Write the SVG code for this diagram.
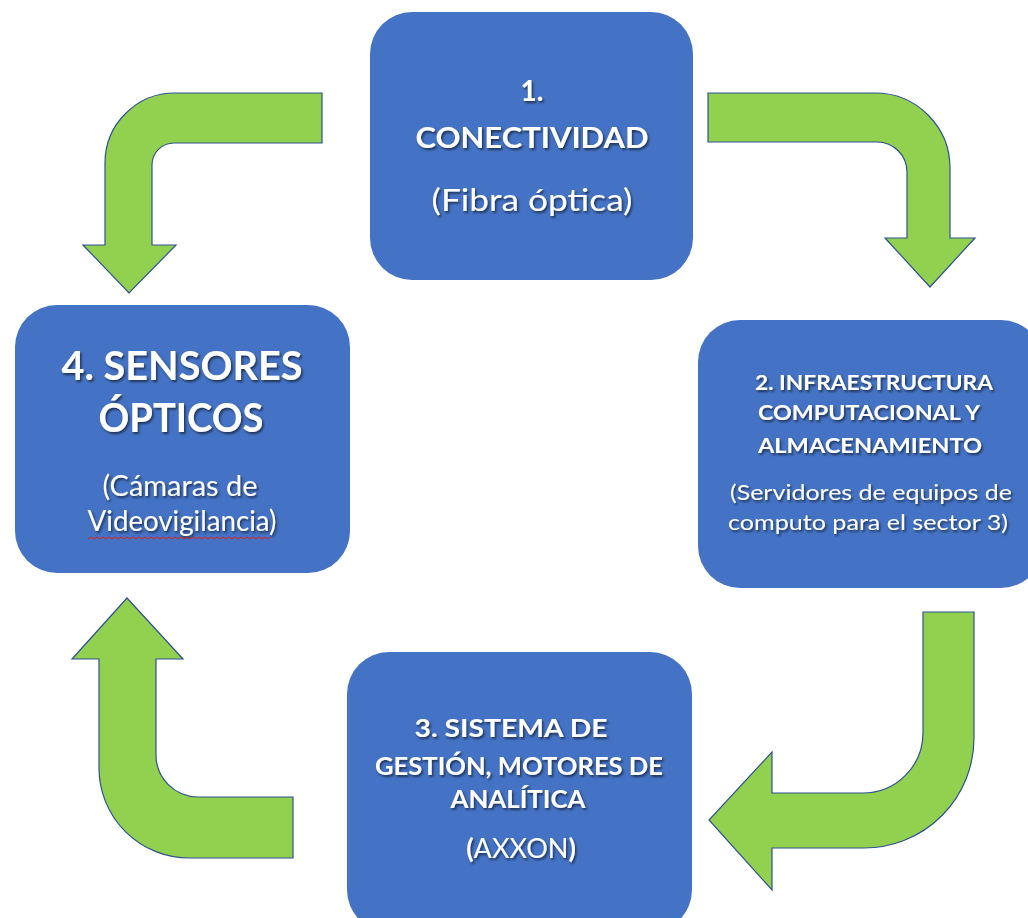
<svg xmlns="http://www.w3.org/2000/svg" width="1028" height="918" viewBox="0 0 1028 918">
<defs>
<filter id="sh" x="-10%" y="-30%" width="120%" height="160%">
<feDropShadow dx="1.5" dy="2" stdDeviation="1" flood-color="#000" flood-opacity="0.55"/>
</filter>
</defs>
<style>
.box{fill:#4472C4}
.arr{fill:#92D050;stroke:#2F528F;stroke-width:1.2;stroke-linejoin:miter}
text{fill:#fff;font-family:Lato,"Open Sans","Liberation Sans",sans-serif;text-anchor:middle;filter:url(#sh)}
.b{font-weight:bold}
</style>
<rect width="1028" height="918" fill="#fff"/>
<g id="connectors">
<path class="arr" d="M322,93 L175,93 A70,70 0 0 0 105,163 L105,245 L83,245 L129,293 L176,245 L152,245 L152,165 A22,22 0 0 1 174,143 L322,143 Z"/>
<path class="arr" d="M708,93 L875,93 A75,75 0 0 1 950,168 L950,238 L975,238 L930,287 L885,238 L907,238 L907,172 A30,30 0 0 0 877,142 L708,142 Z"/>
<path class="arr" d="M923,612 L974,612 L974,738 A110,110 0 0 1 864,848 L772,848 L772,890 L709,820 L772,752 L772,793 L863,793 A60,60 0 0 0 923,733 Z"/>
<path class="arr" d="M127,598 L183,659 L156,659 L156,755 A42,42 0 0 0 198,797 L293,797 L293,858 L189,858 A90,90 0 0 1 99,768 L99,659 L72,659 Z"/>
</g>
<g id="node1">
<rect class="box" x="370" y="12" width="323" height="268" rx="42"/>
<text class="b" x="532" y="101" font-size="28">1.</text>
<text class="b" x="532" y="148" font-size="28" textLength="233" lengthAdjust="spacingAndGlyphs">CONECTIVIDAD</text>
<text x="532" y="211" font-size="30" textLength="201" lengthAdjust="spacingAndGlyphs">(Fibra óptica)</text>
</g>
<g id="node2">
<rect class="box" x="698" y="320" width="345" height="268" rx="42"/>
<text class="b" x="874" y="390" font-size="21" textLength="238" lengthAdjust="spacingAndGlyphs">2. INFRAESTRUCTURA</text>
<text class="b" x="869" y="420" font-size="21" textLength="222" lengthAdjust="spacingAndGlyphs">COMPUTACIONAL Y</text>
<text class="b" x="870" y="453" font-size="21" textLength="224" lengthAdjust="spacingAndGlyphs">ALMACENAMIENTO</text>
<text x="871" y="500" font-size="22" textLength="282" lengthAdjust="spacingAndGlyphs">(Servidores de equipos de</text>
<text x="868" y="530" font-size="22" textLength="280" lengthAdjust="spacingAndGlyphs">computo para el sector 3)</text>
</g>
<g id="node3">
<rect class="box" x="347" y="652" width="345" height="280" rx="42"/>
<text class="b" x="511" y="737" font-size="25" textLength="193" lengthAdjust="spacingAndGlyphs">3. SISTEMA DE</text>
<text class="b" x="519" y="775" font-size="25" textLength="288" lengthAdjust="spacingAndGlyphs">GESTIÓN, MOTORES DE</text>
<text class="b" x="518" y="808" font-size="25" textLength="135" lengthAdjust="spacingAndGlyphs">ANALÍTICA</text>
<text x="521" y="858" font-size="27"><tspan font-weight="bold">(</tspan>AXXON<tspan font-weight="bold">)</tspan></text>
</g>
<g id="node4">
<rect class="box" x="15" y="305" width="335" height="268" rx="42"/>
<text class="b" x="182" y="380" font-size="40" textLength="241" lengthAdjust="spacingAndGlyphs">4. SENSORES</text>
<text class="b" x="181" y="432" font-size="40" textLength="165" lengthAdjust="spacingAndGlyphs">ÓPTICOS</text>
<text x="180" y="496" font-size="28" textLength="155" lengthAdjust="spacingAndGlyphs">(Cámaras de</text>
<text x="182" y="531" font-size="28" textLength="189" lengthAdjust="spacingAndGlyphs">Videovigilancia)</text>
<path d="M88,539 l3,-2 l3,2 l3,-2 l3,2 l3,-2 l3,2 l3,-2 l3,2 l3,-2 l3,2 l3,-2 l3,2 l3,-2 l3,2 l3,-2 l3,2 l3,-2 l3,2 l3,-2 l3,2 l3,-2 l3,2 l3,-2 l3,2 l3,-2 l3,2 l3,-2 l3,2 l3,-2 l3,2 l3,-2 l3,2 l3,-2 l3,2 l3,-2 l3,2 l3,-2 l3,2 l3,-2 l3,2 l3,-2 l3,2 l3,-2 l3,2 l3,-2 l3,2 l3,-2 l3,2 l3,-2 l3,2 l3,-2 l3,2 l3,-2 l3,2 l3,-2 l3,2 l3,-2 l3,2 l3,-2 l3,2 l3,-2" fill="none" stroke="#E02020" stroke-width="1"/>
</g>
</svg>
